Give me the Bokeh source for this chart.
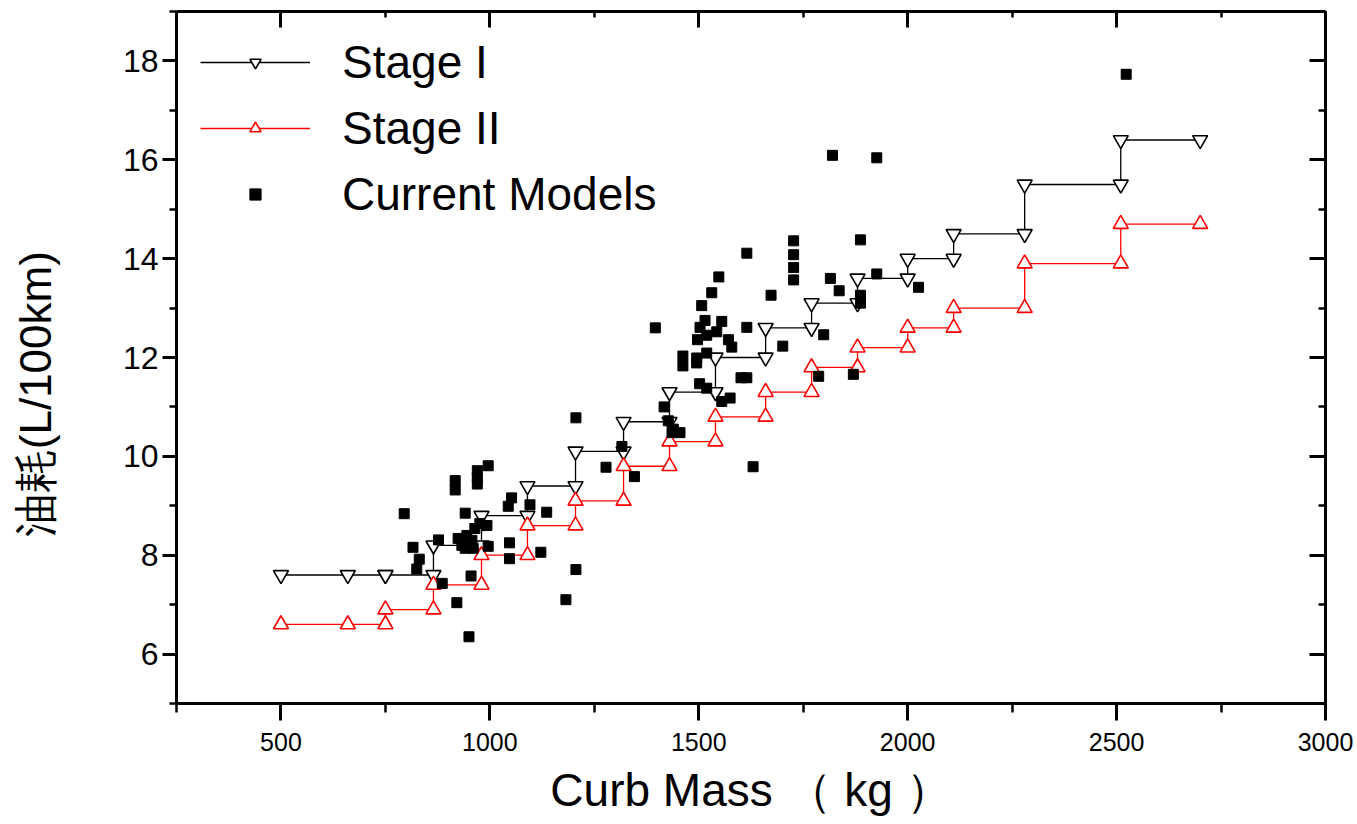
from bokeh.plotting import figure
from bokeh.models import (LinearAxis, SingleIntervalTicker, Legend, LegendItem,
                          Range1d, CustomLabelingPolicy)
from bokeh.embed import file_html
from bokeh.resources import INLINE

# Curb-mass class edges (kg) and fuel consumption limits (L/100km)
class_edges = [500, 750, 865, 980, 1090, 1205, 1320, 1430, 1540, 1660,
               1770, 1880, 2000, 2110, 2280, 2510, 2700]
extra_first_class_mass = [660]
stage1_limits = [7.6, 7.6, 8.2, 8.8, 9.4, 10.1, 10.7, 11.3, 12.0, 12.6,
                 13.1, 13.6, 14.0, 14.5, 15.5, 16.4]
stage2_limits = [6.6, 6.9, 7.4, 8.0, 8.6, 9.1, 9.8, 10.3, 10.8, 11.3,
                 11.8, 12.2, 12.6, 13.0, 13.9, 14.7]

# Current models: curb mass (kg), fuel consumption (L/100km)
current_mass = [795, 816, 831, 825, 886, 921, 950, 955, 877, 917, 917, 970, 970, 970,
                996, 941, 924, 933, 945, 953, 964, 976, 993, 957, 941, 960, 996,
                1047, 1047, 1122, 1052, 1044, 1096, 1136, 1206, 1206, 1182, 1278,
                1346, 1316, 1396, 1417, 1427, 1439, 1455, 1436, 1462, 1462, 1495,
                1495, 1519, 1502, 1519, 1555, 1575, 1497, 1519, 1543, 1571, 1579,
                1515, 1555, 1503, 1507, 1531, 1548, 1615, 1615, 1601, 1615, 1630,
                1673, 1701, 1727, 1727, 1727, 1727, 1787, 1799, 1815, 1820, 1836,
                1870, 1887, 1887, 1887, 1926, 1926, 2026, 2523]
current_fuel = [8.84, 8.16, 7.92, 7.72, 7.43, 7.04, 6.35, 7.58, 8.31, 9.51, 9.32, 9.71,
                9.58, 9.44, 9.81, 8.85, 8.34, 8.20, 8.40, 8.20, 8.54, 8.64, 8.60, 8.30,
                8.14, 8.14, 8.18, 8.25, 7.93, 8.06, 9.16, 8.99, 9.02, 8.87, 10.78, 7.71,
                7.10, 9.78, 9.59, 10.20, 12.60, 11.00, 10.72, 10.55, 10.48, 10.48,
                12.03, 11.83, 11.99, 11.89, 12.09, 11.47, 11.38, 11.11, 11.18, 12.36,
                12.45, 12.52, 12.36, 12.21, 12.75, 12.73, 12.61, 13.05, 13.31, 13.63,
                14.11, 12.61, 11.59, 11.59, 9.79, 13.26, 12.23, 14.36, 14.08, 13.82,
                13.57, 11.62, 12.46, 13.60, 16.09, 13.35, 11.66, 14.38, 13.26, 13.10,
                16.04, 13.69, 13.42, 17.73]

x_ticks_interval = 500
y_ticks_interval = 2


def step_points(edges, limits, extra):
    xs, ys = [], []
    for i, lim in enumerate(limits):
        seg = [edges[i]] + (extra if i == 0 else []) + [edges[i + 1]]
        for xv in seg:
            xs.append(xv)
            ys.append(lim)
    return xs, ys


s1x, s1y = step_points(class_edges, stage1_limits, extra_first_class_mass)
s2x, s2y = step_points(class_edges, stage2_limits, extra_first_class_mass)

p = figure(width=1357, height=824, x_range=Range1d(250, 3000), y_range=Range1d(5, 19),
           output_backend="svg", toolbar_location=None,
           min_border_left=176, min_border_right=32, min_border_top=8, min_border_bottom=121,
           x_axis_type=None, y_axis_type=None)
p.outline_line_color = None
p.background_fill_color = "white"
p.border_fill_color = "white"

xt = SingleIntervalTicker(interval=x_ticks_interval, num_minor_ticks=2)
yt = SingleIntervalTicker(interval=y_ticks_interval, num_minor_ticks=2)


def style(ax):
    ax.axis_line_width = 3
    ax.axis_line_color = "black"
    ax.major_tick_line_width = 3
    ax.minor_tick_line_width = 2.5
    ax.major_tick_line_color = "black"
    ax.minor_tick_line_color = "black"


bottom = LinearAxis(ticker=xt)
style(bottom)
bottom.major_tick_out = 17
bottom.major_tick_in = 0
bottom.minor_tick_out = 9
bottom.minor_tick_in = 0
bottom.major_label_text_font = "Liberation Sans"
bottom.major_label_text_font_size = "25px"
bottom.major_label_standoff = 12
bottom.major_label_text_color = "black"
bottom.axis_label = "Curb Mass （ kg ）"
bottom.axis_label_text_font = "Liberation Sans"
bottom.axis_label_text_font_size = "46px"
bottom.axis_label_text_font_style = "normal"
bottom.axis_label_text_color = "black"
bottom.axis_label_standoff = 10
p.add_layout(bottom, "below")

left = LinearAxis(ticker=yt)
style(left)
left.major_tick_out = 14
left.major_tick_in = 0
left.minor_tick_out = 7
left.minor_tick_in = 0
left.major_label_text_font = "Liberation Sans"
left.major_label_text_font_size = "32px"
left.major_label_standoff = 4
left.major_label_text_color = "black"
left.axis_label = "油耗(L/100km)" + "\u00a0" * 6
left.axis_label_text_font = "Liberation Sans"
left.axis_label_text_font_size = "44px"
left.axis_label_text_font_style = "normal"
left.axis_label_text_color = "black"
left.axis_label_standoff = 60
p.add_layout(left, "left")

top = LinearAxis(ticker=xt, major_label_policy=CustomLabelingPolicy(code="return new Set()"))
style(top)
top.major_tick_out = 0
top.major_tick_in = 16
top.minor_tick_out = 0
top.minor_tick_in = 6
top.major_label_standoff = 0
p.add_layout(top, "above")

right = LinearAxis(ticker=yt, major_label_policy=CustomLabelingPolicy(code="return new Set()"))
style(right)
right.major_tick_out = 0
right.major_tick_in = 16
right.minor_tick_out = 0
right.minor_tick_in = 7
right.major_label_standoff = 0
p.add_layout(right, "right")

l1 = p.line(s1x, s1y, line_color="black", line_width=1.3)
l2 = p.line(s2x, s2y, line_color="red", line_width=1.3)
m1 = p.scatter(s1x, s1y, marker="inverted_triangle", size=15, line_color="black",
               fill_color="white", line_width=1.6)
m2 = p.scatter(s2x, s2y, marker="triangle", size=15, line_color="red",
               fill_color="white", line_width=1.6)
sq = p.scatter(current_mass, current_fuel, marker="square", size=10,
               fill_color="black", line_color="black")

legend = Legend(items=[
    LegendItem(label="Stage I", renderers=[l1, m1]),
    LegendItem(label="Stage II", renderers=[l2, m2]),
    LegendItem(label="Current Models", renderers=[sq]),
], location="top_left")
legend.glyph_width = 110
legend.glyph_height = 28
legend.label_text_font = "Liberation Sans"
legend.label_text_font_size = "46px"
legend.label_text_color = "black"
legend.label_standoff = 32
legend.spacing = 12
legend.padding = 0
legend.margin = 24
legend.border_line_color = None
legend.background_fill_alpha = 0
p.add_layout(legend)

open("out.html", "w").write(file_html(p, INLINE))
